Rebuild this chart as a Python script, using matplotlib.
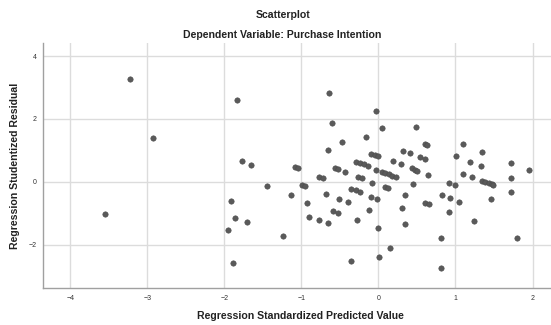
import matplotlib.pyplot as plt

plt.rcParams['font.family'] = ['Liberation Sans', 'DejaVu Sans']

# 散点数据：标准化预测值 与 学生化残差
pred = [-3.22, -2.93, -3.55, -1.83, -1.77, -1.66, -1.45, -1.13, -1.92, -1.86,
        -1.71, -1.95, -1.24, -1.89,
        -0.64, -0.03, -0.60, 0.04, 0.49, -0.16, -0.47, 0.60, 0.63, 1.10,
        -0.66, 0.32, 0.41, 1.34, -0.09, -0.04, 0.00, 1.01, 0.54, 0.60,
        0.19, 1.19, -0.29, -0.24, -0.19, -0.13, 1.72, 0.29, 1.33, -1.08,
        -1.04, -0.56, -0.53, 0.43, 0.47, 0.50, -0.03, 1.95, -0.44, 0.05,
        0.09, 0.14, 0.18, 0.23, 1.10, 0.64, -0.77, -0.72, -0.26, -0.21,
        1.22, 1.72, 1.34, 1.38, 1.43, 1.47, 1.49, -0.08, 0.45, 0.91,
        -0.99, -0.95, 0.99, 0.08, 0.12, -0.35, -0.29, -0.24, 1.72, -0.68,
        0.34, 0.83, -0.10, -0.02, 0.93, -0.51, 1.46, 1.05, -0.40, -0.93,
        0.61, 0.66, 0.30, -0.12, -0.59, -0.52, 0.91, -0.90, -0.77, -0.66,
        -0.28, 1.24, 0.34, -0.01, 0.81, 1.80, 0.15, -0.35, 0.01, 0.81]
resid = [3.26, 1.38, -1.01, 2.59, 0.67, 0.54, -0.12, -0.43, -0.62, -1.15,
         -1.27, -1.55, -1.72, -2.57,
         2.84, 2.24, 1.86, 1.71, 1.75, 1.43, 1.26, 1.19, 1.16, 1.19,
         1.00, 0.99, 0.90, 0.96, 0.89, 0.86, 0.83, 0.81, 0.78, 0.72,
         0.65, 0.64, 0.64, 0.60, 0.55, 0.51, 0.60, 0.55, 0.51, 0.46,
         0.44, 0.43, 0.41, 0.43, 0.38, 0.35, 0.39, 0.38, 0.31, 0.31,
         0.27, 0.24, 0.19, 0.16, 0.25, 0.21, 0.16, 0.11, 0.15, 0.11,
         0.15, 0.13, 0.03, 0.00, -0.03, -0.06, -0.10, -0.03, -0.06, -0.03,
         -0.11, -0.14, -0.11, -0.16, -0.21, -0.23, -0.27, -0.34, -0.33, -0.38,
         -0.41, -0.41, -0.47, -0.54, -0.52, -0.55, -0.55, -0.63, -0.65, -0.67,
         -0.67, -0.71, -0.85, -0.91, -0.94, -1.00, -0.95, -1.11, -1.23, -1.32,
         -1.23, -1.26, -1.34, -1.46, -1.79, -1.80, -2.12, -2.53, -2.41, -2.75]

xticks = [-4, -3, -2, -1, 0, 1, 2]
yticks = [-2, 0, 2, 4]

fig = plt.figure(figsize=(5.51, 3.25), dpi=100)
ax = fig.add_axes([0.0786, 0.113, 0.9214, 0.754])

ax.scatter(pred, resid, s=15, color='#5a5a5a', edgecolors='#4a4a4a',
           linewidths=0.4, zorder=3)

ax.set_xlim(-4.35, 2.24)
ax.set_ylim(-3.39, 4.41)
ax.set_xticks(xticks)
ax.set_yticks(yticks)
ax.tick_params(length=0, labelsize=5, pad=5, colors='#333333')
ax.grid(True, color='#dcdcdc', linewidth=1.0, zorder=0)
ax.set_axisbelow(True)

for s in ['top', 'right']:
    ax.spines[s].set_visible(False)
for s in ['left', 'bottom']:
    ax.spines[s].set_color('#a0a0a0')
    ax.spines[s].set_linewidth(1.0)

fig.text(283 / 551, 1 - 15 / 325, 'Scatterplot', ha='center', va='center',
         fontsize=7.6, fontweight='bold', color='#222222')
fig.text(282 / 551, 1 - 34.5 / 325, 'Dependent Variable: Purchase Intention',
         ha='center', va='center', fontsize=7.6, fontweight='bold', color='#222222')
fig.text(300 / 551, 1 - 316 / 325, 'Regression Standardized Predicted Value',
         ha='center', va='center', fontsize=7.6, fontweight='bold', color='#222222')
fig.text(15 / 551, 1 - 166 / 325, 'Regression Studentized Residual',
         ha='center', va='center', rotation=90, fontsize=7.6,
         fontweight='bold', color='#222222')

fig.savefig('out.png', dpi=100)
plt.close()
